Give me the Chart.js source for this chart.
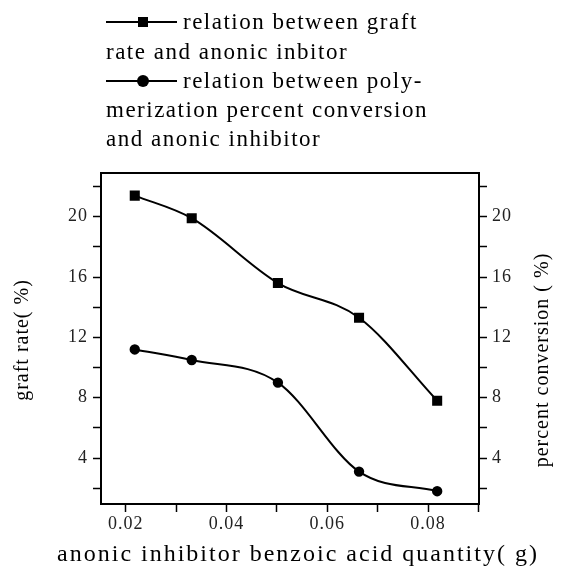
<!DOCTYPE html>
<html>
<head>
<meta charset="utf-8">
<script src="https://cdn.jsdelivr.net/npm/chart.js@4"></script>
<style>
  body { margin: 0; background: #fff; }
  #wrap { position: relative; width: 566px; height: 575px; }
  #legend { position: absolute; left: 0; top: 0; width: 566px; font-family: "Liberation Serif", serif; font-size: 23px; letter-spacing: 1.5px; color: #000; }
  .row { position: absolute; left: 0; width: 566px; height: 29px; line-height: 29px; white-space: nowrap; }
  .txt { position: absolute; top: 0; }
  .sym { position: absolute; left: 106px; top: 14px; width: 71px; height: 2px; background: #000; }
  .sq { position: absolute; left: 32px; top: -4px; width: 10px; height: 10px; background: #000; }
  .dot { position: absolute; left: 31px; top: -5px; width: 12px; height: 12px; border-radius: 50%; background: #000; }
</style>
</head>
<body>
<div id="wrap">
  <canvas id="myChart" width="566" height="575"></canvas>
  <div id="legend">
    <div class="row" style="top:7px"><span class="sym"><i class="sq"></i></span><span class="txt" style="left:183px">relation between graft</span></div>
    <div class="row" style="top:37px"><span class="txt" style="left:106px">rate and anonic inbitor</span></div>
    <div class="row" style="top:66px"><span class="sym"><i class="dot"></i></span><span class="txt" style="left:183px">relation between poly-</span></div>
    <div class="row" style="top:95px"><span class="txt" style="left:106px">merization percent conversion</span></div>
    <div class="row" style="top:124px"><span class="txt" style="left:106px">and anonic inhibitor</span></div>
  </div>
</div>
<script>
const xValues = [0.0218, 0.0331, 0.0502, 0.0663, 0.0818]; // benzoic acid quantity (g)
const graftRate = [21.4, 19.9, 15.6, 13.3, 7.8];          // graft rate (%)
const conversion = [11.2, 10.5, 9.0, 3.1, 1.8];           // percent conversion (%)

const serif = '"Liberation Serif", "Times New Roman", serif';

function drawText(ctx, text, x, y, size, spacing, rot) {
  ctx.save();
  ctx.translate(x, y);
  if (rot) ctx.rotate(rot);
  ctx.font = size + 'px ' + serif;
  ctx.letterSpacing = spacing + 'px';
  ctx.fillStyle = '#000';
  ctx.textAlign = 'center';
  ctx.textBaseline = 'middle';
  ctx.fillText(text, 0, 0);
  ctx.restore();
}

// box round the plot + axis titles
const framePlugin = {
  id: 'frame',
  beforeDraw(chart) {
    chart.ctx.letterSpacing = '1px';
  },
  afterDraw(chart) {
    const {ctx, chartArea: a} = chart;
    ctx.save();
    ctx.strokeStyle = '#000';
    ctx.lineWidth = 2;
    ctx.strokeRect(a.left, a.top, a.right - a.left, a.bottom - a.top);
    ctx.restore();
    drawText(ctx, 'graft rate( %)', 23, 340, 20, 1, -Math.PI / 2);
    drawText(ctx, 'percent conversion ( %)', 543, 360, 20, 1, -Math.PI / 2);
    drawText(ctx, 'anonic inhibitor benzoic acid quantity( g)', 298, 555, 24, 2, 0);
  }
};

const yTicks = {
  stepSize: 2,
  includeBounds: false,
  padding: 5,
  color: '#222',
  font: {family: serif, size: 18},
  callback: v => (Math.round(v) % 4 === 0 ? Math.round(v) : '')
};

const myChart = new Chart('myChart', {
  type: 'line',
  data: {
    datasets: [
      {
        label: 'relation between graft rate and anonic inbitor',
        data: xValues.map((x, i) => ({x: x, y: graftRate[i]})),
        yAxisID: 'y',
        borderColor: '#000',
        backgroundColor: '#000',
        borderWidth: 2,
        pointStyle: 'rect',
        pointRadius: 5.7,
        cubicInterpolationMode: 'monotone'
      },
      {
        label: 'relation between polymerization percent conversion and anonic inhibitor',
        data: xValues.map((x, i) => ({x: x, y: conversion[i]})),
        yAxisID: 'y1',
        borderColor: '#000',
        backgroundColor: '#000',
        borderWidth: 2,
        pointStyle: 'circle',
        pointRadius: 4.2,
        cubicInterpolationMode: 'monotone'
      }
    ]
  },
  options: {
    responsive: false,
    animation: false,
    layout: {padding: {top: 173, left: 0, right: 0, bottom: 0}},
    plugins: {legend: {display: false}, tooltip: {enabled: false}},
    scales: {
      x: {
        type: 'linear',
        min: 0.0151,
        max: 0.0901,
        afterFit: s => { s.height = 71; },
        border: {color: '#000', width: 2},
        grid: {drawOnChartArea: false, color: '#000', tickLength: 8, tickWidth: 1.5},
        ticks: {
          stepSize: 0.01,
          includeBounds: false,
          padding: 1,
          color: '#222',
          font: {family: serif, size: 18},
          callback: v => (Math.round(v * 100) % 2 === 0 ? v.toFixed(2) : '')
        }
      },
      y: {
        position: 'left',
        min: 0.95,
        max: 22.9,
        afterFit: s => { s.width = 101; },
        border: {color: '#000', width: 2},
        grid: {drawOnChartArea: false, color: '#000', tickLength: 8, tickWidth: 1.5},
        ticks: yTicks
      },
      y1: {
        position: 'right',
        min: 0.95,
        max: 22.9,
        afterFit: s => { s.width = 87; },
        border: {color: '#000', width: 2},
        grid: {drawOnChartArea: false, color: '#000', tickLength: 8, tickWidth: 1.5},
        ticks: yTicks
      }
    }
  },
  plugins: [framePlugin]
});
</script>
</body>
</html>
